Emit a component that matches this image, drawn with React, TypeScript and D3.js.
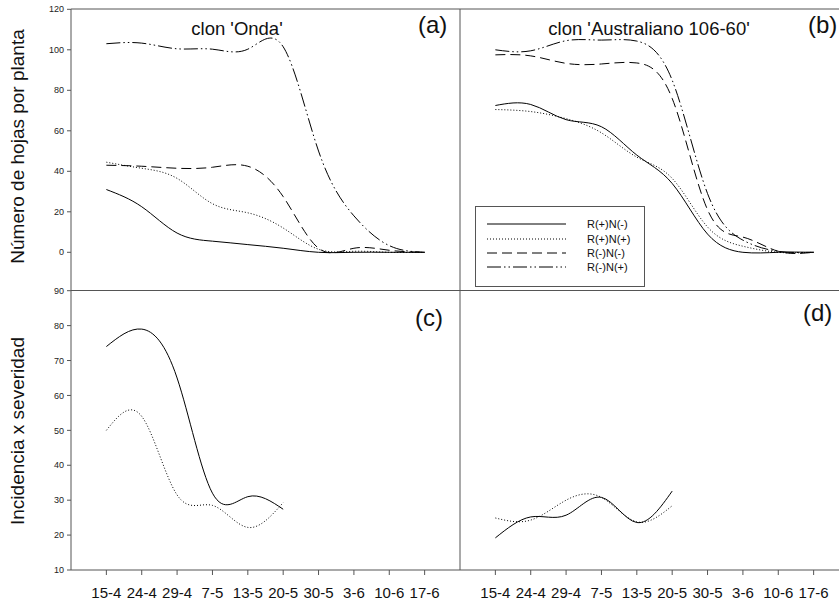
import React from 'react';
import * as d3 from 'd3';

const dates = ['15-4', '24-4', '29-4', '7-5', '13-5', '20-5', '30-5', '3-6', '10-6', '17-6'];
const seriesNames = ['R(+)N(-)', 'R(+)N(+)', 'R(-)N(-)', 'R(-)N(+)'];

// (a) clon 'Onda' — número de hojas por planta
const ondaRpNm = [31, 22.5, 9.5, 5.5, 3.8, 2, 0, 0, 0, 0];
const ondaRpNp = [44.5, 41.5, 36.5, 24, 19.5, 12, 1.5, 0.5, 0, 0];
const ondaRmNm = [43, 42.5, 41.5, 42, 42.5, 27.5, 2, 2, 1, 0];
const ondaRmNp = [103, 103.3, 100.5, 100.3, 100.3, 101.5, 50, 18, 3.3, 0];

// (b) clon 'Australiano 106-60'
const austRpNm = [72.5, 73, 65.5, 62, 48, 34, 9, 0, 0, 0];
const austRpNp = [70.5, 69.5, 66, 59, 47, 36.5, 12.5, 3, 0, 0];
const austRmNm = [97.5, 97, 93.3, 93, 93.5, 76, 21, 7.5, 0.5, 0];
const austRmNp = [100, 99.5, 104.5, 104.8, 104.3, 85, 29, 6, 0.5, 0];

// (c) Onda — incidencia x severidad
const ondaSevRpNm = [74, 79, 65, 32, 31, 27.4];
const ondaSevRpNp = [50, 54, 31.5, 28.5, 22.2, 29.3];

// (d) Australiano — incidencia x severidad
const austSevRpNm = [19.2, 25.2, 25.7, 30.8, 23.6, 32.6];
const austSevRpNp = [24.9, 24.3, 30, 30.8, 23.8, 28.4];

const topTicks = [0, 20, 40, 60, 80, 100, 120];
const bottomTicks = [10, 20, 30, 40, 50, 60, 70, 80, 90];

const FONT = "'Liberation Sans', Arial, Helvetica, sans-serif";
const dashes = ['none', '1,2', '10,5', '14,3,1.5,3,1.5,3'];
const frame = '#555';

const X0 = 71, XM = 460, X1 = 849;
const YT = 9, YM = 290.5, YB = 570;

export default function App() {
  const xLeft = d3.scalePoint<string>().domain(dates).range([X0, XM]).padding(1);
  const xRight = d3.scalePoint<string>().domain(dates).range([XM, X1]).padding(1);
  const yTop = d3.scaleLinear().domain([0, 120]).range([252.3, 9.3]);
  const yBot = d3.scaleLinear().domain([10, 90]).range([570, 290.7]);

  const mkLine = (x: d3.ScalePoint<string>, y: d3.ScaleLinear<number, number>) =>
    d3
      .line<number>()
      .x((_, i) => x(dates[i]) as number)
      .y((d) => y(d))
      .curve(d3.curveNatural);

  const lA = mkLine(xLeft, yTop);
  const lB = mkLine(xRight, yTop);
  const lC = mkLine(xLeft, yBot);
  const lD = mkLine(xRight, yBot);

  const topA = [ondaRpNm, ondaRpNp, ondaRmNm, ondaRmNp];
  const topB = [austRpNm, austRpNp, austRmNm, austRmNp];
  const botC = [ondaSevRpNm, ondaSevRpNp];
  const botD = [austSevRpNm, austSevRpNp];

  const legendRows = [224, 239, 253, 267];

  return (
    <svg
      width={839}
      height={602}
      style={{ position: 'absolute', left: 0, top: 0, background: '#fff' }}
      fontFamily={FONT}
    >
      <rect x={0} y={0} width={839} height={602} fill="#fff" />
      {/* frame */}
      <g stroke={frame} strokeWidth={1} fill="none">
        <line x1={X0} y1={YT} x2={X1} y2={YT} />
        <line x1={X0} y1={YM} x2={X1} y2={YM} />
        <line x1={X0} y1={YB} x2={X1} y2={YB} />
        <line x1={X0} y1={YT} x2={X0} y2={YB} />
        <line x1={XM} y1={YT} x2={XM} y2={YB} />
      </g>

      {/* y ticks */}
      <g>
        {topTicks.map((t) => (
          <g key={'yt' + t}>
            <line x1={X0 - 4} x2={X0} y1={yTop(t)} y2={yTop(t)} stroke={frame} />
            <text x={64} y={yTop(t)} dy="0.35em" textAnchor="end" fontSize={9} fill="#222">
              {t}
            </text>
          </g>
        ))}
        {bottomTicks.map((t) => (
          <g key={'yb' + t}>
            <line x1={X0 - 4} x2={X0} y1={yBot(t)} y2={yBot(t)} stroke={frame} />
            <text x={64} y={yBot(t)} dy="0.35em" textAnchor="end" fontSize={9} fill="#222">
              {t}
            </text>
          </g>
        ))}
      </g>

      {/* x ticks */}
      {[xLeft, xRight].map((x, k) => (
        <g key={'x' + k}>
          {dates.map((d) => (
            <g key={d}>
              <line x1={x(d)} x2={x(d)} y1={YB} y2={YB + 5} stroke={frame} />
              <text x={x(d)} y={598} textAnchor="middle" fontSize={15} fill="#111">
                {d}
              </text>
            </g>
          ))}
        </g>
      ))}

      {/* axis titles */}
      <text
        transform="translate(24,146.5) rotate(-90)"
        textAnchor="middle"
        fontSize={19}
        fill="#111"
      >
        Número de hojas por planta
      </text>
      <text
        transform="translate(24,431) rotate(-90)"
        textAnchor="middle"
        fontSize={19}
        fill="#111"
      >
        Incidencia x severidad
      </text>

      {/* panel titles */}
      <text x={237} y={35} textAnchor="middle" fontSize={18.5} fill="#111">
        clon 'Onda'
      </text>
      <text x={649} y={35} textAnchor="middle" fontSize={18.5} fill="#111">
        clon 'Australiano 106-60'
      </text>
      <text x={418} y={33} fontSize={24} fill="#111">(a)</text>
      <text x={808} y={33} fontSize={24} fill="#111">(b)</text>
      <text x={415} y={326} fontSize={24} fill="#111">(c)</text>
      <text x={803} y={321} fontSize={24} fill="#111">(d)</text>

      {/* series */}
      <g fill="none" stroke="#000" strokeWidth={1}>
        {topA.map((s, i) => (
          <path key={'a' + i} d={lA(s) || ''} strokeDasharray={dashes[i]} />
        ))}
        {topB.map((s, i) => (
          <path key={'b' + i} d={lB(s) || ''} strokeDasharray={dashes[i]} />
        ))}
        {botC.map((s, i) => (
          <path key={'c' + i} d={lC(s) || ''} strokeDasharray={dashes[i]} />
        ))}
        {botD.map((s, i) => (
          <path key={'d' + i} d={lD(s) || ''} strokeDasharray={dashes[i]} />
        ))}
      </g>

      {/* legend */}
      <rect x={475.5} y={206.5} width={169} height={80} fill="#fff" stroke={frame} />
      {seriesNames.map((n, i) => (
        <g key={n}>
          <line
            x1={487}
            x2={566}
            y1={legendRows[i]}
            y2={legendRows[i]}
            stroke="#000"
            strokeDasharray={dashes[i]}
          />
          <text x={587} y={legendRows[i]} dy="0.35em" fontSize={11} fill="#111">
            {n}
          </text>
        </g>
      ))}
    </svg>
  );
}
